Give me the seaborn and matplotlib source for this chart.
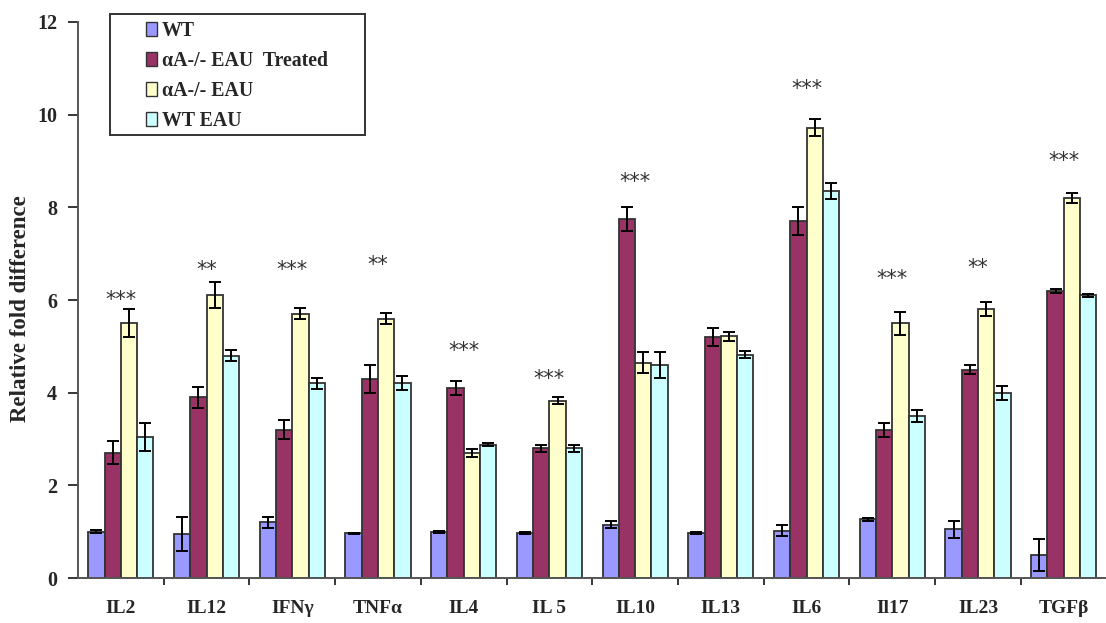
import numpy as np
import pandas as pd
import matplotlib
matplotlib.use("Agg")
import matplotlib.pyplot as plt
from matplotlib.patches import Rectangle
import seaborn as sns

# 数据
cytokines = ["IL2", "IL12", "IFNγ", "TNFα", "IL4", "IL 5", "IL10", "IL13", "IL6", "Il17", "IL23", "TGFβ"]
groups = ["WT", "αA-/- EAU  Treated", "αA-/- EAU", "WT EAU"]

wt = [1.0, 0.95, 1.2, 0.97, 1.0, 0.97, 1.15, 0.97, 1.02, 1.27, 1.05, 0.5]
treated = [2.7, 3.9, 3.2, 4.3, 4.1, 2.8, 7.75, 5.2, 7.7, 3.2, 4.5, 6.2]
eau = [5.5, 6.1, 5.7, 5.6, 2.7, 3.83, 4.65, 5.22, 9.72, 5.5, 5.8, 8.2]
wt_eau = [3.05, 4.8, 4.2, 4.2, 2.88, 2.8, 4.6, 4.82, 8.35, 3.5, 4.0, 6.1]

wt_err = [0.03, 0.37, 0.12, 0.01, 0.02, 0.02, 0.08, 0.02, 0.12, 0.03, 0.18, 0.35]
treated_err = [0.25, 0.22, 0.2, 0.3, 0.15, 0.08, 0.25, 0.2, 0.3, 0.15, 0.1, 0.04]
eau_err = [0.3, 0.28, 0.12, 0.12, 0.08, 0.08, 0.22, 0.1, 0.18, 0.25, 0.15, 0.1]
wt_eau_err = [0.3, 0.12, 0.12, 0.15, 0.03, 0.08, 0.28, 0.08, 0.18, 0.13, 0.15, 0.03]

stars = ["***", "**", "***", "**", "***", "***", "***", "", "***", "***", "**", "***"]
star_y = [6.0, 6.65, 6.65, 6.75, 4.9, 4.3, 8.55, 0, 10.55, 6.45, 6.7, 9.0]

colors = ["#9999FF", "#993366", "#FFFFCC", "#CCFFFF"]

values = [wt, treated, eau, wt_eau]
errors = [wt_err, treated_err, eau_err, wt_eau_err]
rows = []
for g, v, e in zip(groups, values, errors):
    for c, val, err in zip(cytokines, v, e):
        rows.append({"cytokine": c, "group": g, "value": val, "err": err})
df = pd.DataFrame(rows)

sns.set_style("white")
plt.rcParams['font.family'] = ['Liberation Serif', 'DejaVu Serif']
plt.rcParams['font.weight'] = 'bold'

fig = plt.figure(figsize=(11.06, 6.23), dpi=100)
ax = fig.add_axes([0.0705, 0.0722, 0.93, 0.8925])

sns.barplot(data=df, x="cytokine", y="value", hue="group", order=cytokines,
            hue_order=groups, palette=colors, saturation=1, width=0.76, gap=0,
            edgecolor="#333333", linewidth=1.3, errorbar=None, ax=ax, legend=True)

# 误差线
for bars, g in zip(ax.containers, groups):
    sub = df[df["group"] == g].set_index("cytokine").loc[cytokines]
    xs = [b.get_x() + b.get_width() / 2 for b in bars]
    ax.errorbar(xs, sub["value"], yerr=sub["err"], fmt="none", ecolor="black",
                elinewidth=1.4, capsize=4.5, capthick=1.4, zorder=5)

# 显著性标记
for i, (s, y) in enumerate(zip(stars, star_y)):
    if s:
        ax.text(i, y, s, ha="center", va="center", fontsize=15, fontweight="normal",
                family="DejaVu Sans", color="#333333")

ax.set_xlim(-0.5, 11.5)
ax.set_ylim(0, 12)
ax.set_yticks(range(0, 13, 2))
ax.set_xlabel("")
ax.set_ylabel("Relative fold difference", fontsize=16.5, fontweight="bold")
ax.yaxis.set_label_coords(-0.046, 0.484)
ax.tick_params(axis="y", labelsize=14.5, direction="out", length=7, width=1.3, pad=8, left=True)
ax.tick_params(axis="x", which="major", labelsize=14, length=0, pad=16)
ax.set_xticks(np.arange(0.5, 11.5, 1), minor=True)
ax.tick_params(axis="x", which="minor", direction="out", length=5, width=1.3, bottom=True)
for lab in ax.get_xticklabels() + ax.get_yticklabels():
    lab.set_fontweight("bold")

for side in ["top", "right"]:
    ax.spines[side].set_visible(False)
for side in ["left", "bottom"]:
    ax.spines[side].set_color("#555555")
    ax.spines[side].set_linewidth(1.4)

# 图例（外框单独画）
leg = ax.legend(loc="upper left", bbox_to_anchor=(146 / 1106, 1 - 21 / 623),
                bbox_transform=fig.transFigure, frameon=False,
                handlelength=0.55, handleheight=0.75, handletextpad=0.25,
                labelspacing=0.5, borderpad=0, borderaxespad=0,
                prop={"weight": "bold", "size": 14.3})
for h in leg.legend_handles:
    h.set_linewidth(1.0)
fig.patches.append(Rectangle((110 / 1106, 1 - 135 / 623), 255 / 1106, 121 / 623,
                             transform=fig.transFigure, fill=False,
                             edgecolor="#333333", linewidth=1.4, zorder=10))

fig.savefig("out.png", dpi=100)
